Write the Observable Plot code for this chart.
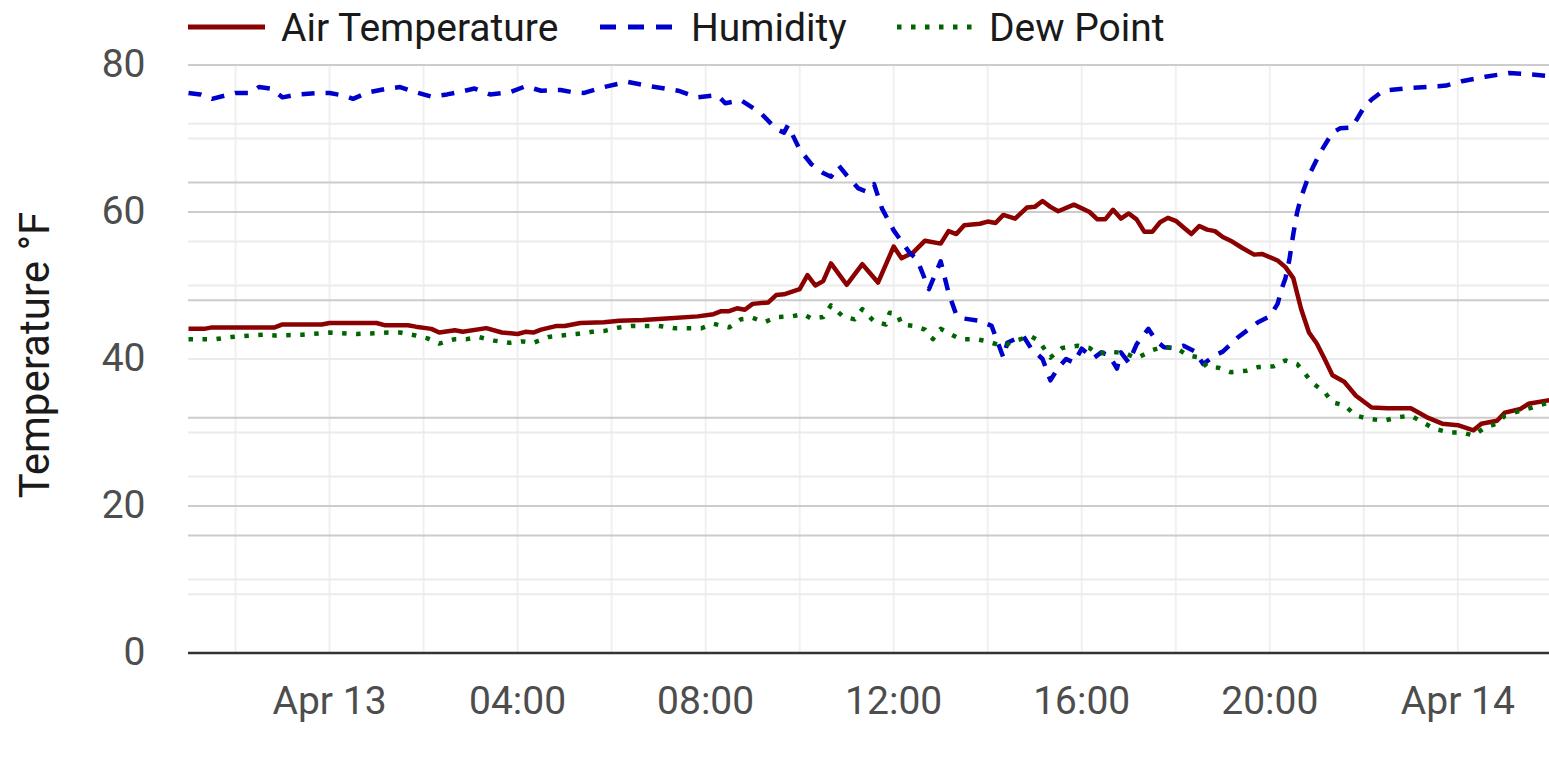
<!DOCTYPE html>
<html>
<head>
<meta charset="utf-8">
<script src="https://cdn.jsdelivr.net/npm/d3@7"></script>
<script src="https://cdn.jsdelivr.net/npm/@observablehq/plot@0.6"></script>
<style>
  body { margin: 0; background: #fff; font-family: Roboto, sans-serif; }
  #legend { display: block; }
  #chart svg { display: block; }
</style>
</head>
<body>
<svg id="legend" width="1549" height="52"></svg>
<div id="chart"></div>
<script>
// ---- data (temperature units, °F; humidity shown on the chart's own scale) ----
const airTemperature = [
["04-12 21:00",44.1],["04-12 21:20",44.1],["04-12 21:30",44.3],["04-12 22:50",44.3],["04-12 23:00",44.7],["04-12 23:50",44.7],
["04-13 00:00",44.9],["04-13 01:00",44.9],["04-13 01:10",44.6],["04-13 01:40",44.6],["04-13 01:50",44.4],["04-13 02:10",44.1],
["04-13 02:20",43.6],["04-13 02:40",43.9],["04-13 02:50",43.7],["04-13 03:20",44.2],["04-13 03:40",43.6],["04-13 04:00",43.4],
["04-13 04:10",43.7],["04-13 04:20",43.6],["04-13 04:30",44.0],["04-13 04:50",44.5],["04-13 05:00",44.5],["04-13 05:20",44.9],
["04-13 05:50",45.0],["04-13 06:10",45.2],["04-13 06:40",45.3],["04-13 07:10",45.5],["04-13 07:50",45.8],["04-13 08:10",46.1],
["04-13 08:20",46.5],["04-13 08:30",46.5],["04-13 08:40",46.9],["04-13 08:50",46.7],["04-13 09:00",47.5],["04-13 09:20",47.7],
["04-13 09:30",48.7],["04-13 09:40",48.8],["04-13 10:00",49.5],["04-13 10:10",51.4],["04-13 10:20",50.0],["04-13 10:30",50.6],
["04-13 10:40",53.0],["04-13 11:00",50.1],["04-13 11:20",52.9],["04-13 11:40",50.4],["04-13 12:00",55.3],["04-13 12:10",53.7],
["04-13 12:25",54.5],["04-13 12:40",56.1],["04-13 13:00",55.7],["04-13 13:10",57.4],["04-13 13:20",57.0],["04-13 13:30",58.2],
["04-13 13:50",58.4],["04-13 14:00",58.7],["04-13 14:10",58.5],["04-13 14:20",59.6],["04-13 14:35",59.1],["04-13 14:50",60.6],
["04-13 15:00",60.7],["04-13 15:10",61.5],["04-13 15:20",60.7],["04-13 15:30",60.1],["04-13 15:50",61.0],["04-13 16:10",60.0],
["04-13 16:20",59.0],["04-13 16:30",59.0],["04-13 16:40",60.3],["04-13 16:50",59.1],["04-13 17:00",59.8],["04-13 17:10",59.0],
["04-13 17:20",57.3],["04-13 17:30",57.3],["04-13 17:40",58.6],["04-13 17:50",59.2],["04-13 18:00",58.8],["04-13 18:10",57.9],
["04-13 18:20",57.0],["04-13 18:30",58.1],["04-13 18:40",57.6],["04-13 18:50",57.4],["04-13 19:00",56.6],["04-13 19:10",56.1],
["04-13 19:25",55.1],["04-13 19:40",54.2],["04-13 19:50",54.3],["04-13 20:10",53.4],["04-13 20:20",52.5],["04-13 20:30",51.0],
["04-13 20:40",46.8],["04-13 20:50",43.6],["04-13 21:00",42.1],["04-13 21:10",40.0],["04-13 21:20",37.8],["04-13 21:35",36.9],
["04-13 21:50",35.0],["04-13 22:10",33.4],["04-13 22:30",33.3],["04-13 23:00",33.3],["04-13 23:20",32.1],["04-13 23:40",31.2],
["04-14 00:00",31.0],["04-14 00:20",30.3],["04-14 00:30",31.2],["04-14 00:50",31.6],["04-14 01:00",32.7],["04-14 01:20",33.2],
["04-14 01:30",33.9],["04-14 01:57",34.4]
];
const humidity = [
["04-12 21:00",76.2],["04-12 21:15",76.0],["04-12 21:30",75.4],["04-12 22:00",76.2],["04-12 22:20",76.2],["04-12 22:30",77.0],
["04-12 22:45",76.8],["04-12 23:00",75.6],["04-12 23:20",76.0],["04-12 23:45",76.2],["04-13 00:00",76.2],["04-13 00:20",75.8],
["04-13 00:30",75.4],["04-13 00:50",76.3],["04-13 01:15",76.8],["04-13 01:30",77.0],["04-13 01:50",76.3],["04-13 02:10",75.7],
["04-13 02:30",76.0],["04-13 02:45",76.3],["04-13 03:05",76.8],["04-13 03:25",76.0],["04-13 03:50",76.3],["04-13 04:10",77.1],
["04-13 04:30",76.5],["04-13 04:55",76.6],["04-13 05:10",76.3],["04-13 05:25",76.2],["04-13 05:50",77.0],["04-13 06:20",77.7],
["04-13 06:50",77.1],["04-13 07:25",76.5],["04-13 07:50",75.6],["04-13 08:15",75.9],["04-13 08:25",74.8],["04-13 08:45",75.2],
["04-13 09:10",73.5],["04-13 09:30",71.3],["04-13 09:40",70.8],["04-13 09:45",71.8],["04-13 10:00",68.5],["04-13 10:15",66.5],
["04-13 10:30",65.3],["04-13 10:40",64.8],["04-13 10:50",66.3],["04-13 11:00",65.0],["04-13 11:15",63.2],["04-13 11:25",62.8],
["04-13 11:35",63.8],["04-13 11:45",60.5],["04-13 12:00",57.5],["04-13 12:10",56.0],["04-13 12:20",54.5],["04-13 12:30",53.5],
["04-13 12:45",49.5],["04-13 13:00",53.3],["04-13 13:10",49.0],["04-13 13:20",46.0],["04-13 13:30",45.5],["04-13 13:50",45.2],
["04-13 14:05",44.5],["04-13 14:20",40.2],["04-13 14:25",42.2],["04-13 14:45",43.2],["04-13 14:55",41.5],["04-13 15:10",40.0],
["04-13 15:20",37.1],["04-13 15:30",38.8],["04-13 15:40",40.0],["04-13 15:50",39.5],["04-13 16:00",41.4],["04-13 16:15",40.1],
["04-13 16:25",40.9],["04-13 16:35",40.5],["04-13 16:45",38.7],["04-13 16:50",40.9],["04-13 17:00",39.5],["04-13 17:10",42.0],
["04-13 17:25",44.1],["04-13 17:35",42.5],["04-13 17:45",41.6],["04-13 18:00",41.5],["04-13 18:10",41.8],["04-13 18:25",41.0],
["04-13 18:35",39.3],["04-13 18:50",40.5],["04-13 19:00",41.0],["04-13 19:20",43.0],["04-13 19:45",45.0],["04-13 20:00",45.8],
["04-13 20:10",47.5],["04-13 20:15",49.5],["04-13 20:20",51.0],["04-13 20:25",53.5],["04-13 20:30",57.0],["04-13 20:35",60.0],
["04-13 20:40",62.0],["04-13 20:50",65.0],["04-13 21:05",68.2],["04-13 21:20",70.8],["04-13 21:30",71.4],["04-13 21:45",71.5],
["04-13 22:00",74.2],["04-13 22:10",75.3],["04-13 22:25",76.5],["04-13 23:00",76.9],["04-13 23:35",77.1],["04-13 23:45",77.2],
["04-14 00:05",77.8],["04-14 00:35",78.4],["04-14 01:05",78.9],["04-14 01:35",78.7],["04-14 01:57",78.5]
];
const dewPoint = [
["04-12 21:00",42.7],["04-12 21:35",42.7],["04-12 21:55",43.0],["04-12 22:35",43.3],["04-12 22:50",43.2],["04-12 23:25",43.3],
["04-13 00:00",43.6],["04-13 00:35",43.4],["04-13 01:15",43.6],["04-13 01:30",43.6],["04-13 01:50",43.2],["04-13 02:05",42.8],
["04-13 02:20",42.1],["04-13 02:40",42.7],["04-13 02:55",42.7],["04-13 03:10",43.0],["04-13 03:30",42.5],["04-13 03:50",42.2],
["04-13 04:05",42.4],["04-13 04:20",42.2],["04-13 04:40",43.0],["04-13 04:55",43.2],["04-13 05:15",43.4],["04-13 05:35",43.7],
["04-13 05:50",43.8],["04-13 06:10",44.3],["04-13 06:25",44.5],["04-13 07:00",44.5],["04-13 07:20",44.2],["04-13 07:55",44.2],
["04-13 08:10",44.8],["04-13 08:30",44.3],["04-13 08:45",45.4],["04-13 09:00",45.6],["04-13 09:15",45.0],["04-13 09:30",45.7],
["04-13 09:50",45.8],["04-13 10:05",46.1],["04-13 10:15",45.5],["04-13 10:30",45.7],["04-13 10:40",47.3],["04-13 10:55",45.8],
["04-13 11:10",45.4],["04-13 11:20",46.8],["04-13 11:35",45.1],["04-13 11:50",44.7],["04-13 11:55",46.3],["04-13 12:05",46.1],
["04-13 12:10",44.7],["04-13 12:25",44.5],["04-13 12:40",44.0],["04-13 12:50",42.7],["04-13 13:00",44.1],["04-13 13:25",42.7],
["04-13 13:45",42.7],["04-13 14:00",42.4],["04-13 14:20",41.7],["04-13 14:30",42.3],["04-13 14:45",42.8],["04-13 14:55",43.1],
["04-13 15:05",42.5],["04-13 15:20",40.2],["04-13 15:35",41.5],["04-13 15:55",41.8],["04-13 16:10",41.5],["04-13 16:20",40.7],
["04-13 16:35",41.0],["04-13 16:55",40.8],["04-13 17:10",40.1],["04-13 17:30",41.2],["04-13 17:45",41.7],["04-13 18:05",41.2],
["04-13 18:15",40.5],["04-13 18:30",40.2],["04-13 18:40",38.9],["04-13 18:55",38.8],["04-13 19:10",38.2],["04-13 19:30",38.4],
["04-13 19:45",38.9],["04-13 20:05",39.0],["04-13 20:20",39.8],["04-13 20:35",39.3],["04-13 20:45",38.0],["04-13 20:55",36.7],
["04-13 21:10",35.5],["04-13 21:20",34.1],["04-13 21:35",33.7],["04-13 21:50",32.3],["04-13 22:05",31.9],["04-13 22:25",31.6],
["04-13 22:45",32.1],["04-13 23:00",32.3],["04-13 23:15",31.4],["04-13 23:30",30.5],["04-13 23:50",30.0],["04-14 00:05",30.0],
["04-14 00:20",29.6],["04-14 00:35",30.7],["04-14 00:50",31.2],["04-14 01:00",32.3],["04-14 01:15",32.8],["04-14 01:35",33.4],
["04-14 01:57",34.1]
];
const seriesNames = ["Air Temperature", "Humidity", "Dew Point"];
const seriesColors = ["#8b0000", "#0000cd", "#006400"];
const xDomain = ["04-12 21:00", "04-14 01:57"];
const xTickTimes = ["04-13 00:00", "04-13 04:00", "04-13 08:00", "04-13 12:00", "04-13 16:00", "04-13 20:00", "04-14 00:00"];
const xTickLabels = ["Apr 13", "04:00", "08:00", "12:00", "16:00", "20:00", "Apr 14"];
const xGridTimes = ["04-12 22:00", "04-13 00:00", "04-13 02:00", "04-13 04:00", "04-13 06:00", "04-13 08:00", "04-13 10:00",
  "04-13 12:00", "04-13 14:00", "04-13 16:00", "04-13 18:00", "04-13 20:00", "04-13 22:00", "04-14 00:00"];
const yTicks = [0, 20, 40, 60, 80];
const yGridMajor = [16, 20, 32, 48, 60, 64, 80];
const yGridMinor = [8, 10, 24, 30, 40, 50, 56, 70, 72];
const yLabel = "Temperature °F";

// ---- build ----
const parse = d3.utcParse("%Y-%m-%d %H:%M");
const t = s => parse("2024-" + s);
const rows = (arr, name) => arr.map(([d, v]) => ({time: t(d), value: v, series: name}));
const air = rows(airTemperature, seriesNames[0]);
const hum = rows(humidity, seriesNames[1]);
const dew = rows(dewPoint, seriesNames[2]);
const tickDates = xTickTimes.map(t);
const labelFor = new Map(tickDates.map((d, i) => [+d, xTickLabels[i]]));

const chart = Plot.plot({
  width: 1549,
  height: 711,
  marginLeft: 188,
  marginRight: 0,
  marginTop: 12.5,
  marginBottom: 110.5,
  style: {fontFamily: "Roboto, sans-serif", fontSize: "39px", background: "#fff", overflow: "visible"},
  x: {type: "utc", domain: xDomain.map(t)},
  y: {domain: [0, 80]},
  marks: [
    Plot.ruleX(xGridTimes.map(t), {stroke: "#f0f0f0", strokeWidth: 2}),
    Plot.ruleY(yGridMinor, {stroke: "#ebebeb", strokeWidth: 2}),
    Plot.ruleY(yGridMajor, {stroke: "#cccccc", strokeWidth: 2}),
    Plot.line(air, {x: "time", y: "value", stroke: seriesColors[0], strokeWidth: 4.5, strokeLinejoin: "round", strokeLinecap: "butt"}),
    Plot.line(hum, {x: "time", y: "value", stroke: seriesColors[1], strokeWidth: 4.5, strokeDasharray: "13,11", strokeLinecap: "butt"}),
    Plot.line(dew, {x: "time", y: "value", stroke: seriesColors[2], strokeWidth: 4.5, strokeDasharray: "4.5,9.5", strokeLinecap: "butt"}),
    Plot.ruleY([0], {stroke: "#333333", strokeWidth: 2.5}),
    Plot.axisY(yTicks, {tickSize: 0, tickPadding: 43, color: "#4d4d4d", label: null}),
    Plot.axisX(tickDates, {tickSize: 0, tickPadding: 33, color: "#4d4d4d", label: null, tickFormat: d => labelFor.get(+d)}),
    Plot.text([yLabel], {frameAnchor: "left", dx: -153, dy: -4, rotate: -90, textAnchor: "middle", fill: "#1a1a1a", fontSize: 42})
  ]
});
document.getElementById("chart").appendChild(chart);

// ---- legend (above the plot) ----
const legendItems = [
  {name: seriesNames[0], color: seriesColors[0], dash: null, x0: 188, x1: 265, tx: 281},
  {name: seriesNames[1], color: seriesColors[1], dash: "16,12", x0: 600, x1: 678, tx: 691},
  {name: seriesNames[2], color: seriesColors[2], dash: "4.5,9.5", x0: 897, x1: 972, tx: 989}
];
const lg = d3.select("#legend");
legendItems.forEach(it => {
  lg.append("line").attr("x1", it.x0).attr("x2", it.x1).attr("y1", 27).attr("y2", 27)
    .attr("stroke", it.color).attr("stroke-width", 5).attr("stroke-dasharray", it.dash);
  lg.append("text").attr("x", it.tx).attr("y", 41).attr("font-family", "Roboto, sans-serif")
    .attr("font-size", 39).attr("fill", "#1a1a1a").text(it.name);
});
</script>
</body>
</html>
